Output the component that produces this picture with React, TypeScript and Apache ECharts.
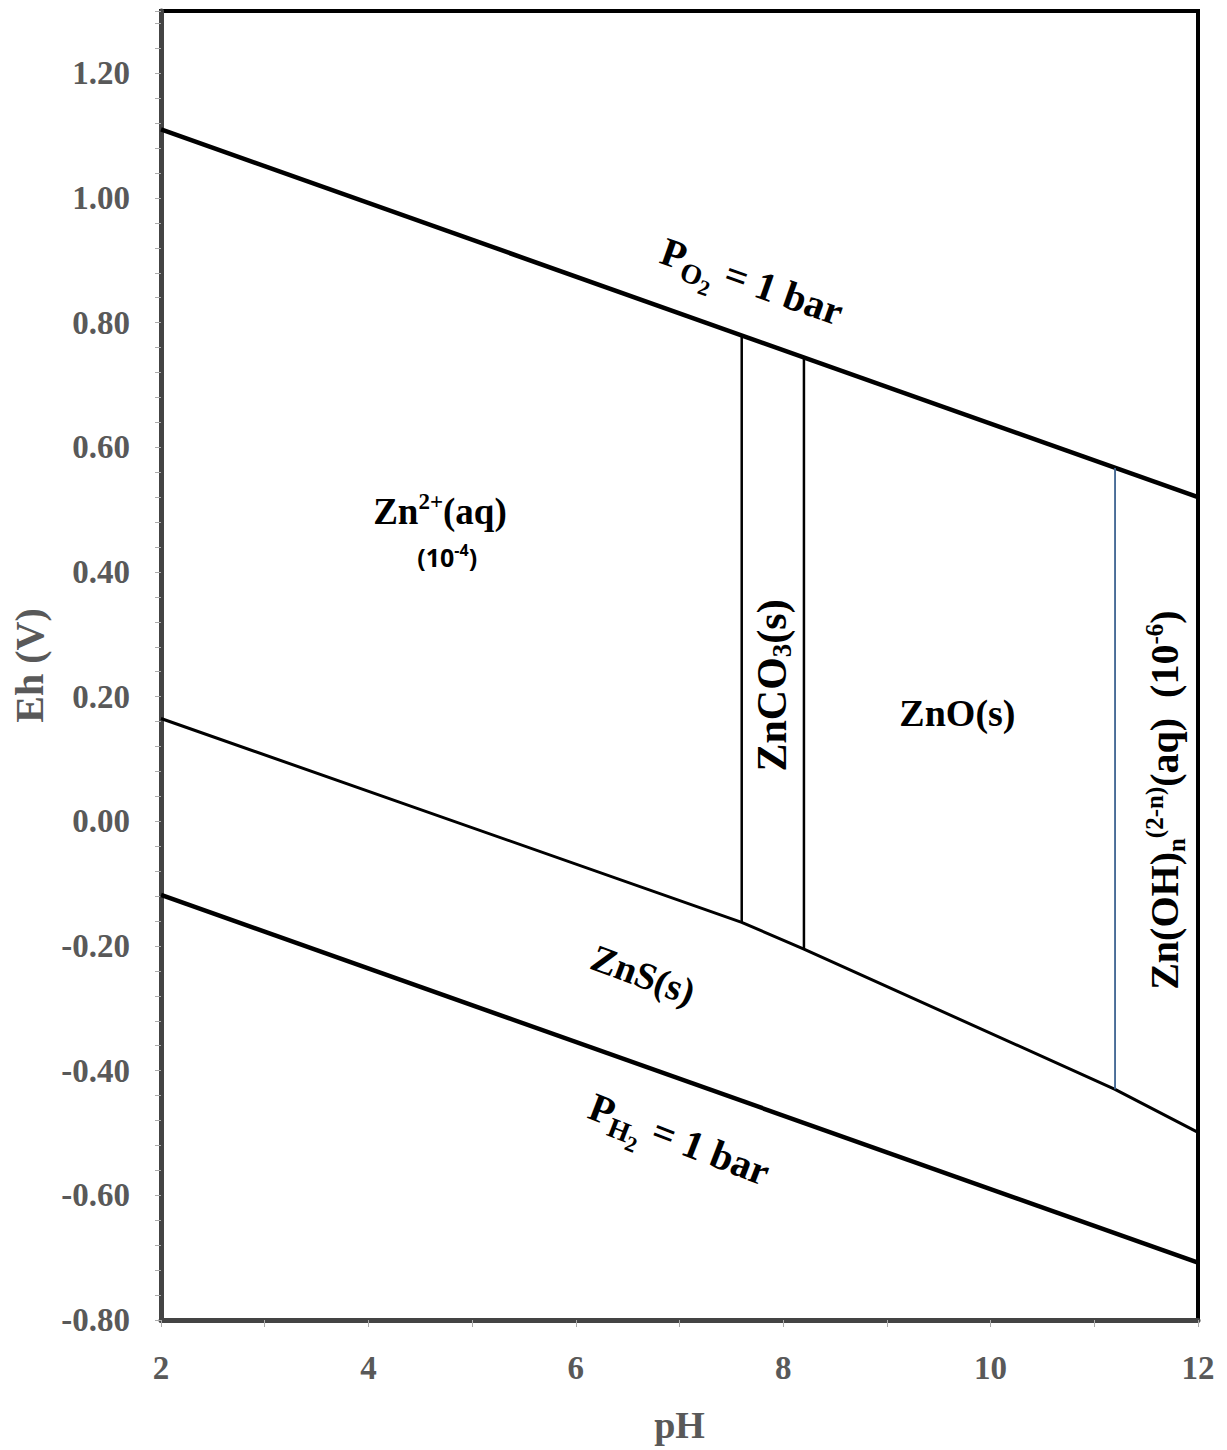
import React, { useEffect, useRef } from "react";
import * as echarts from "echarts";

// ---- data (pH, Eh in V) ----
const o2Line: number[][] = [[2, 1.110], [12, 0.520]];
const h2Line: number[][] = [[2, -0.118], [12, -0.708]];
const znsBoundary: number[][] = [[2, 0.165], [7.6, -0.162], [8.2, -0.205], [11.2, -0.430], [12, -0.499]];
const znco3Left: number[][] = [[7.6, -0.162], [7.6, 0.779]];
const znco3Right: number[][] = [[8.2, -0.205], [8.2, 0.744]];
const znohBoundary: number[][] = [[11.2, -0.430], [11.2, 0.567]];

const xTicks = [2, 4, 6, 8, 10, 12];
const yTicks = [-0.8, -0.6, -0.4, -0.2, 0, 0.2, 0.4, 0.6, 0.8, 1.0, 1.2];

// label anchors [pH, Eh]
const labelPO2 = [7.70, 0.866];
const labelZn2 = [4.69, 0.506];
const labelZn2Conc = [4.76, 0.434];
const labelZnCO3 = [7.89, 0.218];
const labelZnO = [9.68, 0.174];
const labelZnOH = [11.60, 0.034];
const labelZnS = [6.65, -0.246];
const labelPH2 = [7.0, -0.51];

const SERIF = '"Liberation Serif", "Times New Roman", serif';
const SANS = '"Open Sans", "Noto Sans", sans-serif';
const GRAY = "#595959";

function tok(fs: number, padTop: number, family: string = SERIF) {
  return {
    fontSize: fs,
    fontFamily: family,
    fontWeight: "bold",
    lineHeight: fs,
    padding: [padTop, 0, 0, 0],
    verticalAlign: "top",
    fill: "#000",
  };
}

export default function App() {
  const ref = useRef<HTMLDivElement>(null);

  useEffect(() => {
    document.body.style.margin = "0";
    const chart = echarts.init(ref.current!, undefined, { renderer: "svg" });
    const lineSeries = (data: number[][], width: number, color = "#000") => ({
      type: "line",
      data,
      symbol: "none",
      silent: true,
      lineStyle: { color, width },
      itemStyle: { color },
    });
    chart.setOption({
      animation: false,
      backgroundColor: "#fff",
      grid: {
        left: 161,
        right: 29,
        top: 11,
        bottom: 130,
        show: true,
        borderColor: "#000",
        borderWidth: 4,
      },
      xAxis: {
        type: "value",
        min: 2,
        max: 12,
        interval: 2,
        name: "pH",
        nameLocation: "middle",
        nameGap: 86,
        nameTextStyle: { fontFamily: SERIF, fontWeight: "bold", fontSize: 38, color: GRAY },
        axisLine: { show: true, onZero: false, lineStyle: { color: "#444", width: 5 } },
        axisTick: { show: true, length: 7, lineStyle: { color: "#aaa", width: 1 } },
        minorTick: { show: true, splitNumber: 2, length: 7, lineStyle: { color: "#aaa", width: 1 } },
        splitLine: { show: false },
        axisLabel: {
          margin: 31,
          fontFamily: SERIF,
          fontWeight: "bold",
          fontSize: 33,
          color: GRAY,
          formatter: (v: number) => (xTicks.includes(v) ? String(v) : ""),
        },
      },
      yAxis: {
        type: "value",
        min: -0.8,
        max: 1.3,
        interval: 0.2,
        name: "Eh (V)",
        nameLocation: "middle",
        nameRotate: 90,
        nameGap: 112,
        nameTextStyle: { fontFamily: SERIF, fontWeight: "bold", fontSize: 40, color: GRAY },
        axisLine: { show: true, onZero: false, lineStyle: { color: "#444", width: 5 } },
        axisTick: { show: true, length: 6, lineStyle: { color: "#aaa", width: 1 } },
        minorTick: { show: true, splitNumber: 5, length: 6, lineStyle: { color: "#aaa", width: 1 } },
        splitLine: { show: false },
        axisLabel: {
          margin: 31,
          showMaxLabel: false,
          fontFamily: SERIF,
          fontWeight: "bold",
          fontSize: 33,
          color: GRAY,
          formatter: (v: number) => {
            const r = Math.round(v * 100) / 100;
            return yTicks.some((t) => Math.abs(t - r) < 1e-6) ? r.toFixed(2) : "";
          },
        },
      },
      series: [
        lineSeries(o2Line, 4.5),
        lineSeries(h2Line, 4.5),
        lineSeries(znsBoundary, 3),
        lineSeries(znco3Left, 2.5),
        lineSeries(znco3Right, 2.5),
        lineSeries(znohBoundary, 1.8, "#3d6390"),
      ],
    });

    const px = (p: number[]) => chart.convertToPixel({ gridIndex: 0 }, p) as number[];
    const textEl = (p: number[], text: string, rich: any, rotation = 0) => {
      const [x, y] = px(p);
      return {
        type: "text",
        x,
        y,
        rotation,
        silent: true,
        style: { text, rich, align: "center", verticalAlign: "middle", fill: "#000" },
      };
    };

    const pRich = { m: tok(40, 0), s: tok(28, 19), ss: tok(22, 31) };
    chart.setOption({
      graphic: [
        textEl(labelPO2, "{m|P}{s|O}{ss|2}{m| = 1 bar}", pRich, -0.34),
        textEl(labelPH2, "{m|P}{s|H}{ss|2}{m| = 1 bar}", pRich, -0.37),
        textEl(labelZn2, "{m|Zn}{sp|2+}{m|(aq)}", { m: tok(37, 6), sp: tok(23, 3) }),
        textEl(labelZn2Conc, "{m|(10}{sp|-4}{m|)}", { m: tok(25, 6, SANS), sp: tok(16, 4, SANS) }),
        textEl(labelZnCO3, "{m|ZnCO}{sb|3}{m|(s)}", { m: tok(42, 0), sb: tok(27, 18) }, Math.PI / 2),
        textEl(labelZnO, "{m|ZnO(s)}", { m: tok(38, 0) }),
        textEl(
          labelZnOH,
          "{m|Zn(OH)}{sb|n}{sp|(2-n)}{m|(aq)  (10}{sp|-6}{m|)}",
          { m: tok(40, 8), sb: tok(25, 27), sp: tok(25, 5) },
          Math.PI / 2
        ),
        textEl(labelZnS, "{m|ZnS(s)}", { m: tok(38, 0) }, -0.36),
      ],
    });

    return () => chart.dispose();
  }, []);

  return <div ref={ref} style={{ width: 1227, height: 1450 }} />;
}
